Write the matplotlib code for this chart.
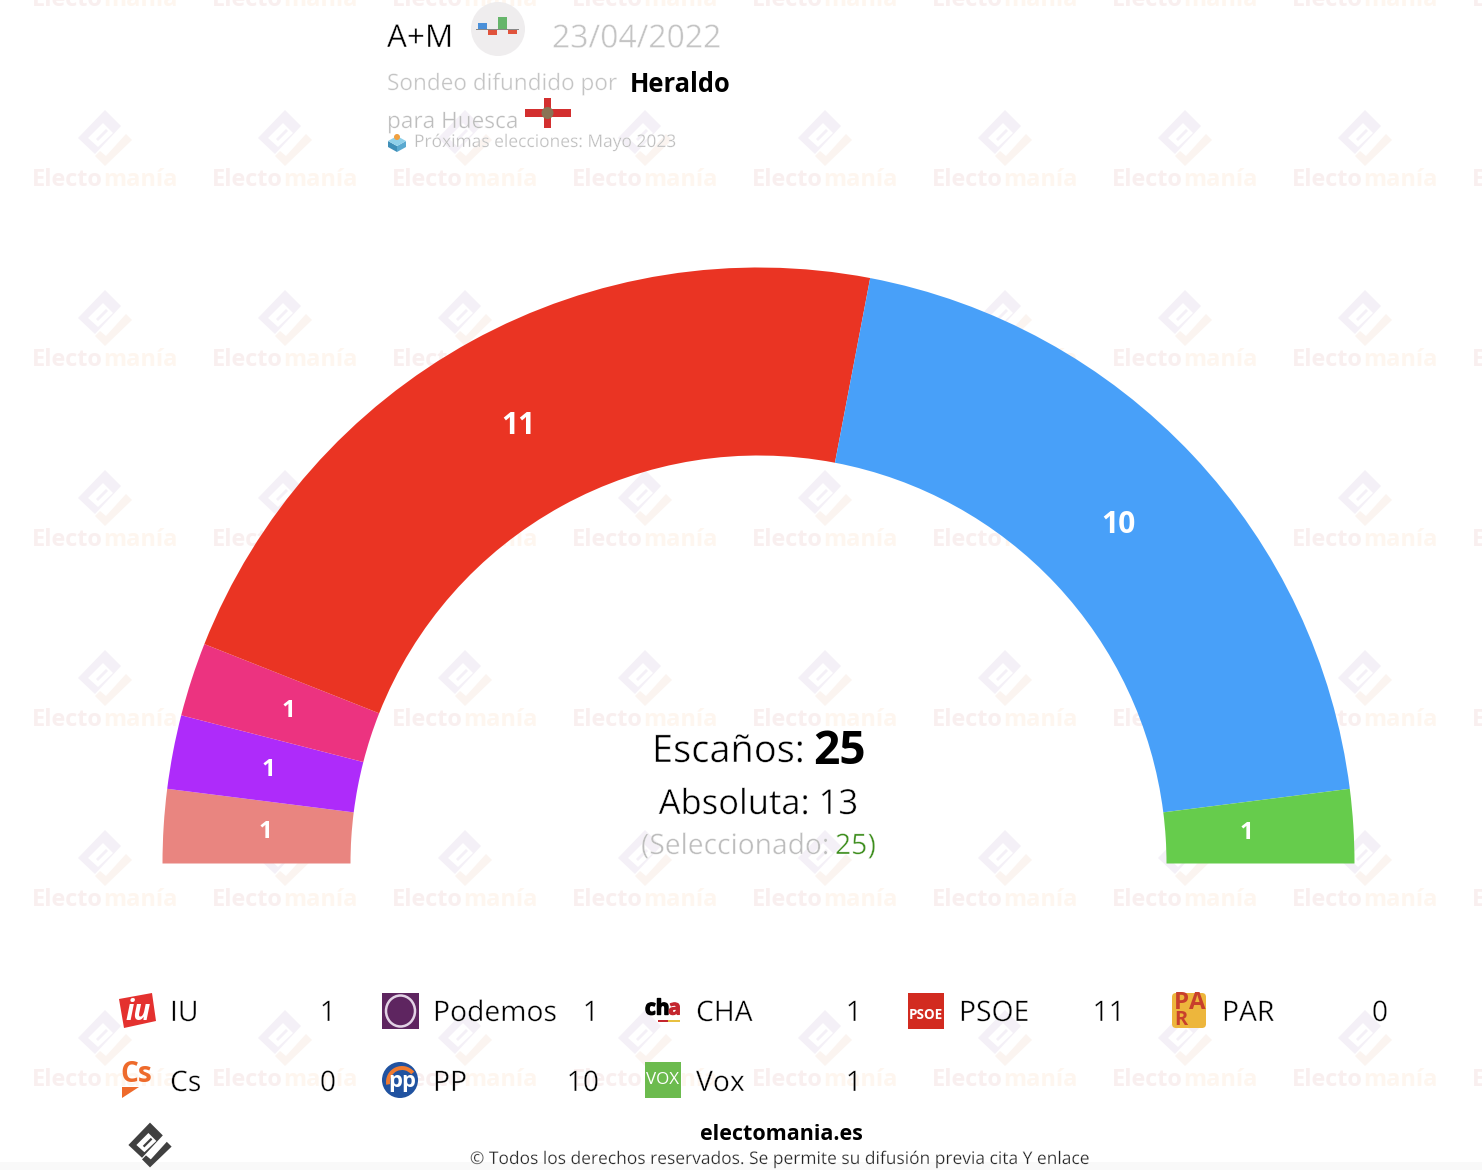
import math
import numpy as np
import matplotlib
matplotlib.use("Agg")
import matplotlib.pyplot as plt
import matplotlib.patheffects as pe
from matplotlib.patches import Circle, Rectangle, Polygon, Ellipse, FancyBboxPatch, Wedge

# ---- data ----
arc_parties = ["CHA", "Podemos", "IU", "PSOE", "PP", "Vox"]
arc_seats = [1, 1, 1, 11, 10, 1]
arc_colors = ["#E98580", "#AE2BFA", "#EC3380", "#EA3423", "#48A0F9", "#66CC4C"]
legend_row1 = ["IU", "Podemos", "CHA", "PSOE", "PAR"]
legend_row1_seats = [1, 1, 1, 11, 0]
legend_row2 = ["Cs", "PP", "Vox"]
legend_row2_seats = [0, 10, 1]
total_seats = 25
majority = 13
selected = 25

W, H = 1482, 1170
FONT = "Open Sans"
plt.rcParams["font.family"] = [FONT, "DejaVu Sans"]
fig = plt.figure(figsize=(W / 100, H / 100), dpi=100, facecolor="white")
ax = fig.add_axes([0, 0, 1, 1])
ax.set_axis_off()


def Y(py):
    return H - py


def px(size):
    return size * 0.72


def txt(x, y, s, size, color="black", ha="left", weight="normal", va="center", z=5):
    t = ax.text(x, Y(y), s, fontsize=px(size), color=color, ha=ha, va=va,
                fontweight=weight, zorder=z)
    if weight == "normal":
        # thin the regular cut towards the light face of the original
        t.set_path_effects([pe.Stroke(linewidth=size * 0.010, foreground="white")])
    return t


def poly(points, color, z=4, alpha=1):
    p = Polygon([(a, Y(b)) for a, b in points], closed=True, fc=color, ec="none", zorder=z, alpha=alpha)
    ax.add_patch(p)
    return p


def rect(x, y, w, h, color, z=4):
    ax.add_patch(Rectangle((x, Y(y + h)), w, h, fc=color, ec="none", zorder=z))


def circ(x, y, r, color, z=4, **kw):
    ax.add_patch(Circle((x, Y(y)), r, fc=color, ec=kw.pop("ec", "none"), zorder=z, **kw))


# ---- watermark ----
EMBLEM_MAIN = [(-27, 0), (0, -28), (16, -12), (-10, 16)]
EMBLEM_SLOT = [(-17, 0), (-2, -15), (8, -5), (-7, 9)]
EMBLEM_LINE = [(-9, 1), (1, -9), (3, -7), (-7, 3)]
EMBLEM_CHECK = [(-5, 13), (1, 18), (21, -4), (27, 2), (0, 28), (-10, 18)]


def emblem(cx, cy, c1, c2, s=1.0, z=1):
    at = lambda pts: [(cx + a * s, cy + b * s) for a, b in pts]
    poly(at(EMBLEM_MAIN), c1, z)
    poly(at(EMBLEM_SLOT), "white", z)
    poly(at(EMBLEM_LINE), c1, z)
    poly(at(EMBLEM_CHECK), c2, z)


for gx in range(-1, 9):
    for gy in range(0, 7):
        cx = 105 + 180 * gx
        cy_text = 180 * gy
        if gy > 0:
            emblem(cx, cy_text - 42, "#F4F0F7", "#FBF4F0")
        ax.text(cx - 2, Y(cy_text), "Electo", fontsize=px(23.5), color="#F9EFEF", ha="right", va="center",
                fontweight="bold", zorder=1)
        ax.text(cx - 2, Y(cy_text), "manía", fontsize=px(23.5), color="#FEF6EF", ha="left", va="center",
                fontweight="bold", zorder=1)

# soft band at the foot of the picture
ax.add_patch(Rectangle((0, 0), W, 8, fc="#F9F9F9", ec="none", zorder=0.5))

# ---- hemicycle ----
CX, CY, R_OUT, R_IN = 758.5, 863.5, 596, 408
values = arc_seats + [sum(arc_seats)]
colors = arc_colors + ["none"]
wedges, _ = ax.pie(values, colors=colors, startangle=180, counterclock=False,
                   radius=R_OUT, center=(CX, Y(CY)), frame=True,
                   wedgeprops=dict(width=R_OUT - R_IN, linewidth=0, zorder=3))
label_radius = [494, 499, 494, 499, 494, 489]
for w, n, r in zip(wedges, arc_seats, label_radius):
    mid = math.radians((w.theta1 + w.theta2) / 2)
    ax.text(CX + r * math.cos(mid), Y(CY) + r * math.sin(mid), str(n), color="white",
            fontsize=px(30 if n > 1 else 24), fontweight="bold", ha="center", va="center", zorder=6)

ax.set_xlim(0, W)
ax.set_ylim(0, H)
ax.set_aspect("auto")
ax.set_axis_off()

# ---- centre text ----
txt(652, 752, "Escaños:", 38)
txt(813, 751, str(total_seats), 46, weight="bold")
txt(758.5, 805, f"Absoluta: {majority}", 34.6, ha="center")
txt(641, 847, "(Seleccionado:", 28.2, color="#BDBDBD")
txt(835, 847, str(selected), 28.2, color="#3E8E1E")
txt(876, 847, ")", 28.2, color="#3E8E1E", ha="right")

# ---- header ----
txt(387, 39, "A+M", 31.5)
circ(498, 29, 27, "#EFEDEE")
for x0, y0, w0, h0, c in [(478, 23, 9, 6, "#4A90D9"), (488, 30, 9, 5, "#E0533C"), (498, 17, 9, 12, "#66B56B"), (508, 30, 9, 4, "#E0533C")]:
    rect(x0, y0, w0, h0, c)
rect(476, 29, 43, 1, "#888888")
txt(552, 39, "23/04/2022", 31.9, color="#C4C4C4")
txt(387, 84, "Sondeo difundido por", 22.6, color="#C4C4C4")
txt(630, 85, "Heraldo", 25.5, weight="bold")
txt(387, 122, "para Huesca", 22.6, color="#BDBDBD")
rect(525, 109, 46, 8, "#D32F2F")
rect(544, 98, 7, 30, "#D32F2F")
circ(547.5, 113, 6, "#8A7355")
poly([(388, 141), (397, 146), (397, 152), (388, 147)], "#3F8FB8")
poly([(397, 146), (406, 141), (406, 147), (397, 152)], "#5AA9D0")
poly([(388, 141), (397, 136), (406, 141), (397, 146)], "#8FD0EA")
circ(397, 137, 3, "#F0A040", z=5)
txt(414, 143, "Próximas elecciones: Mayo 2023", 17.4, color="#BDBDBD")


# ---- legend logos ----
def logo_iu(x, y):
    poly([(x, y + 6), (x + 33, y), (x + 37, y + 28), (x + 5, y + 35)], "#E4312F")
    ax.text(x + 19, Y(y + 19), "iu", fontsize=px(28), fontweight="bold", style="italic", color="white", ha="center", va="center", zorder=5)


def logo_podemos(x, y):
    rect(x, y, 37, 36, "#5E2560")
    ax.add_patch(Ellipse((x + 18.5, Y(y + 18)), 29, 31, fc="none", ec="#E3D3E6", lw=1.8, zorder=5))


def logo_cha(x, y):
    ax.text(x + 0, Y(y + 16), "ch", fontsize=px(21), fontweight="bold", color="black", ha="left", va="center", zorder=5,
            path_effects=[pe.withStroke(linewidth=1.0, foreground="black")])
    ax.text(x + 36, Y(y + 16), "a", fontsize=px(21), fontweight="bold", color="#C4262E", ha="right", va="center", zorder=5,
            path_effects=[pe.withStroke(linewidth=0.8, foreground="#C4262E")])
    rect(x + 13, y + 27, 10, 2, "#C4262E")
    rect(x + 23, y + 27, 12, 2, "#E8C040")


def logo_psoe(x, y):
    rect(x, y, 36, 36, "#D22B20")
    ax.text(x + 18, Y(y + 22), "PSOE", fontsize=px(13.5), fontweight="bold", color="white", ha="center", va="center", zorder=5)


def logo_par(x, y):
    ax.add_patch(FancyBboxPatch((x + 3, Y(y + 33)), 30, 31, boxstyle="round,pad=2,rounding_size=4", fc="#EDB63C", ec="none", zorder=4))
    for s, dx, dy, fs in [("P", 10, 10, 24), ("A", 26, 10, 24), ("R", 10, 27, 20)]:
        ax.text(x + dx, Y(y + dy), s, fontsize=px(fs), fontweight="bold", color="#C8402C", ha="center", va="center", zorder=5)


def logo_cs(x, y):
    ax.text(x + 1, Y(y + 13), "Cs", fontsize=px(28), fontweight="bold", color="#EE6A2B", ha="left", va="center", zorder=5)
    poly([(x + 3, y + 25), (x + 20, y + 25), (x + 3, y + 36)], "#EE6A2B")


def logo_pp(x, y):
    circ(x + 18, y + 18, 18, "#2052A0")
    ax.text(x + 20, Y(y + 20), "pp", fontsize=px(22), fontweight="bold", color="white", ha="center", va="center", zorder=6)
    ax.add_patch(Wedge((x + 20, Y(y + 20)), 16, 40, 190, width=4, fc="#F07A30", ec="none", zorder=5))


def logo_vox(x, y):
    rect(x, y, 36, 36, "#6CBB4E")
    ax.text(x + 18, Y(y + 18), "VOX", fontsize=px(17), color="white", ha="center", va="center", zorder=5)


logos = {"IU": logo_iu, "Podemos": logo_podemos, "CHA": logo_cha, "PSOE": logo_psoe,
         "PAR": logo_par, "Cs": logo_cs, "PP": logo_pp, "Vox": logo_vox}

for row, (names, seats, ytext, ylogo) in enumerate([(legend_row1, legend_row1_seats, 1014, 993),
                                                    (legend_row2, legend_row2_seats, 1084, 1062)]):
    for i, (name, s) in enumerate(zip(names, seats)):
        x0 = 119 + 263 * i
        logos[name](x0, ylogo)
        txt(x0 + 51, ytext, name, 28.3)
        txt(x0 + 217, ytext, str(s), 28.3, ha="right")

# ---- footer ----
emblem(150, 1145, "#404040", "#404040", s=0.8, z=4)
txt(781, 1134, "electomania.es", 21.5, ha="center", weight="bold")
txt(780, 1160, "© Todos los derechos reservados. Se permite su difusión previa cita Y enlace", 17.4, ha="center", color="#222222")

fig.savefig("out.png", dpi=100, facecolor="white")
